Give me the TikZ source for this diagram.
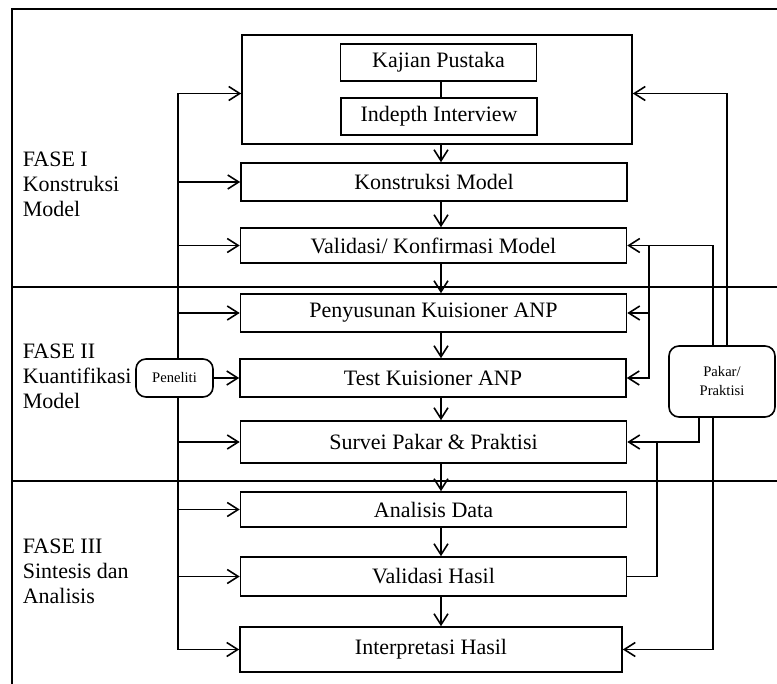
\documentclass[tikz,border=0pt]{standalone}
\usepackage{fontspec}
\setmainfont{Liberation Serif}
\usetikzlibrary{arrows.meta,positioning}

\begin{document}
\begin{tikzpicture}[x=0.5pt,y=-0.5pt,>={Straight Barb[length=5.5pt,width=7pt]},line width=0.8pt,
  font=\fontsize{11}{13}\selectfont,
  stage/.style={draw,minimum width=193pt,inner sep=0pt},
  sub/.style={draw,minimum width=98pt,minimum height=18.5pt,inner sep=0pt},
  actor/.style={draw,fill=white,rounded corners=5pt,inner sep=0pt,align=center,font=\fontsize{7.3}{9.5}\selectfont},
  phase/.style={anchor=north west,inner sep=0pt,align=left,font=\fontsize{11}{12.5}\selectfont}]

    \useasboundingbox (0,0) rectangle (777,684);

    % Frame and phase dividers
    \draw (777,9) -- (12,9) -- (12,684);
    \draw (12,287) -- (777,287);
    \draw (12,481) -- (777,481);

    % Phase labels
    \node [phase] at (22,151) (fase1) {FASE I\\Konstruksi\\Model};
    \node [phase] at (22,343) (fase2) {FASE II\\Kuantifikasi\\Model};
    \node [phase] at (22,538) (fase3) {FASE III\\Sintesis dan\\Analisis};

    % Literature group
    \node [draw,minimum width=195pt,minimum height=54.5pt] at (437,89.5) (grp) {};
    \node [sub] at (438.5,62.5) (kajian) {Kajian Pustaka};
    \node [sub] at (439,116.5) (indepth) {Indepth Interview};
    \coordinate (grpin) at ([yshift=-2pt]grp.west);
    \coordinate (grpback) at ([yshift=-2pt]grp.east);

    % Stages
    \node [stage,minimum height=19pt] at (434,182) (konstruksi) {Konstruksi Model};
    \node [stage,minimum height=17.5pt] at (433.5,245.5) (validasi) {Validasi/ Konfirmasi Model};
    \node [stage,minimum height=19pt] at (433.5,313) (penyusunan) {Penyusunan Kuisioner ANP};
    \node [stage,minimum height=19pt] at (433,378) (test) {Test Kuisioner ANP};
    \node [stage,minimum height=21pt] at (433.5,442) (survei) {Survei Pakar \& Praktisi};
    \node [stage,minimum height=17.5pt] at (433.5,509.5) (analisis) {Analisis Data};
    \node [stage,minimum height=19.5pt] at (433.5,576.5) (vhasil) {Validasi Hasil};
    \node [stage,minimum height=22.5pt,minimum width=191pt] at (431,649.5) (interp) {Interpretasi Hasil};

    % Helper columns
    \coordinate (lspine) at (178,0);
    \coordinate (spine) at (441,0);
    \coordinate (r3) at (649,0);
    \coordinate (r5) at (657,0);

    % Left distribution line
    \draw (grpin -| lspine) -- (interp.west -| lspine);
    \draw[->] (grpin -| lspine) -- (grpin);
    \foreach \n in {konstruksi,validasi,penyusunan,survei,analisis,vhasil,interp}
      \draw[->] (\n.west -| lspine) -- (\n.west);

    % Actors
    \node [actor,minimum width=38.5pt,minimum height=19pt] at (174.5,378) (peneliti) {Peneliti};
    \node [actor,minimum width=53pt,minimum height=35.5pt] at (722,381.5) (pakar) {Pakar/\\Praktisi};

    % Main flow
    \draw (kajian.south -| spine) -- (indepth.north -| spine);
    \path[->]
    (grp.south -| spine) edge (konstruksi.north -| spine)
    (konstruksi.south -| spine) edge (validasi.north -| spine)
    (validasi.south -| spine) edge (penyusunan.north -| spine)
    (penyusunan.south -| spine) edge (test.north -| spine)
    (test.south -| spine) edge (survei.north -| spine)
    (survei.south -| spine) edge (analisis.north -| spine)
    (analisis.south -| spine) edge (vhasil.north -| spine)
    (vhasil.south -| spine) edge (interp.north -| spine)
    (peneliti) edge (test)
    ;

    % Feedback from experts
    \draw[->] ([xshift=2.5pt]pakar.north) |- (grpback);
    \draw[->] ([xshift=-4.5pt]pakar.north) |- (validasi.east);
    \draw[->] ([xshift=-4.5pt]pakar.south) |- (interp.east);
    \draw[->] (validasi.east -| r3) |- (penyusunan.east);
    \draw[->] (validasi.east -| r3) |- (test.east);
    \draw[->] ([xshift=-11.5pt]pakar.south) |- (survei.east);
    \draw (vhasil.east) -| (survei.east -| r5);

\end{tikzpicture}
\end{document}
